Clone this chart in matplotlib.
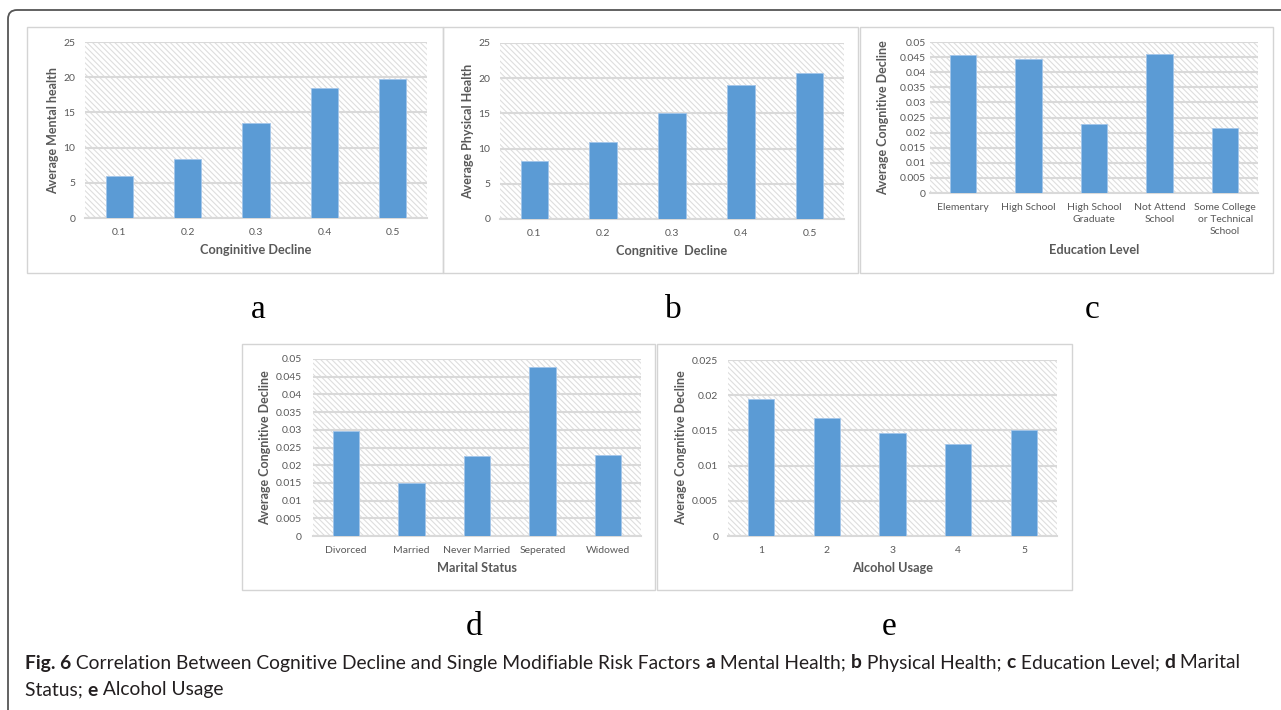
import numpy as np
import matplotlib
matplotlib.use('Agg')
import matplotlib.pyplot as plt
from matplotlib.patches import Rectangle, FancyBboxPatch
from matplotlib.transforms import IdentityTransform
from matplotlib.font_manager import FontProperties
from matplotlib.ticker import FuncFormatter, MultipleLocator

plt.rcParams['font.family'] = ['Lato', 'DejaVu Sans']
plt.rcParams['hatch.linewidth'] = 0.8

W, H = 1281, 710

# data
cog_levels = ['0.1', '0.2', '0.3', '0.4', '0.5']
mental = [6.0, 8.4, 13.5, 18.5, 19.7]
physical = [8.2, 10.9, 15.1, 19.0, 20.7]

edu_levels = ['Elementary', 'High School', 'High School\nGraduate',
              'Not Attend\nSchool', 'Some College\nor Technical\nSchool']
edu_decline = [0.0456, 0.0445, 0.0227, 0.0460, 0.0216]

marital = ['Divorced', 'Married', 'Never Married', 'Seperated', 'Widowed']
marital_decline = [0.0297, 0.0150, 0.0225, 0.0476, 0.0228]

alcohol = ['1', '2', '3', '4', '5']
alcohol_decline = [0.0195, 0.0168, 0.0146, 0.0130, 0.0150]

BAR = '#5b9bd5'
GRID = '#d9d9d9'
TXT = '#595959'

fig = plt.figure(figsize=(W / 100, H / 100), dpi=100)


def fx(x):
    return x / W


def fy(y):
    return 1 - y / H


def box(x0, y0, x1, y1):
    fig.patches.append(Rectangle((fx(x0), fy(y1)), fx(x1 - x0), (y1 - y0) / H,
                                 transform=fig.transFigure, fill=False,
                                 edgecolor='#d4d4d4', lw=1.0))


def panel(rect, cats, vals, ymax, step, xlabel, ylabel, ylab_x, xlab_y, ypad):
    x0, y0, x1, y1 = rect
    ax = fig.add_axes([fx(x0), fy(y1), fx(x1 - x0), (y1 - y0) / H])
    ax.set_facecolor('white')
    ax.add_patch(Rectangle((0, 0), 1, 1, transform=ax.transAxes, facecolor='white',
                           edgecolor='#dedede', hatch='\\\\\\\\\\\\', lw=0, zorder=0))
    x = np.arange(len(cats))
    ax.bar(x, vals, width=0.4, color=BAR, edgecolor='#a3c6ea', lw=0.6, zorder=3)
    ax.set_xlim(-0.5, len(cats) - 0.5)
    ax.set_ylim(0, ymax)
    ax.yaxis.set_major_locator(MultipleLocator(step))
    ax.yaxis.set_major_formatter(FuncFormatter(lambda v, p: '%g' % round(v, 6)))
    ax.grid(axis='y', color=GRID, lw=1.5, zorder=1)
    ax.set_axisbelow(True)
    for s in ['top', 'right', 'left']:
        ax.spines[s].set_visible(False)
    ax.spines['bottom'].set_color(GRID)
    ax.spines['bottom'].set_linewidth(1.5)
    ax.set_xticks(x)
    ax.set_xticklabels(cats, linespacing=1.45)
    ax.tick_params(length=0, labelsize=7.5, labelcolor=TXT)
    ax.tick_params(axis='y', pad=ypad)
    ax.tick_params(axis='x', pad=7)
    ax.set_xlabel(xlabel, fontsize=9.2, fontweight='bold', color=TXT)
    ax.set_ylabel(ylabel, fontsize=9, fontweight='bold', color=TXT)
    ax.yaxis.set_label_coords((ylab_x - x0) / (x1 - x0), 0.5)
    ax.xaxis.set_label_coords(0.5, -(xlab_y - y1) / (y1 - y0))
    ax.xaxis.label.set_va('center')
    ax.yaxis.label.set_va('center')
    return ax


# outer frame with rounded corner
fig.patches.append(FancyBboxPatch((8, -40), W + 60, H - 10 + 40,
                                  boxstyle='round,pad=0,rounding_size=9',
                                  transform=IdentityTransform(), fill=False,
                                  edgecolor='#555555', lw=1.3))

box(27, 27, 443, 273)
box(443, 27, 858, 273)
box(860, 27, 1273, 273)
box(242, 344, 655, 590)
box(657, 344, 1072, 590)

panel((85, 42, 427, 218), cog_levels, mental, 25, 5,
      'Conginitive Decline', 'Average Mental health', 53, 250, 7)
panel((500, 43, 844, 219), cog_levels, physical, 25, 5,
      'Congnitive  Decline', 'Average Physical Health', 468, 251, 7)
panel((930, 42, 1258, 193), edu_levels, edu_decline, 0.05, 0.005,
      'Education Level', 'Average Congnitive Decline', 883, 250, 3)
panel((313, 359, 641, 536), marital, marital_decline, 0.05, 0.005,
      'Marital Status', 'Average Congnitive Decline', 265, 568, 8)
panel((728, 360, 1057, 536), alcohol, alcohol_decline, 0.025, 0.005,
      'Alcohol Usage', 'Average Congnitive Decline', 681, 568, 7)

for letter, (lx, ly) in zip('abcde', [(258, 310), (673, 310), (1092, 310),
                                      (474, 627), (889, 627)]):
    fig.text(fx(lx), fy(ly), letter, fontsize=24, family='Liberation Serif',
             ha='center', va='center', color='black')

# caption, mixed bold / regular runs placed one after another
cap_family = ['Lato', 'DejaVu Sans']
lines = [
    [('Fig. 6', 'bold'), (' Correlation Between Cognitive Decline and Single Modifiable Risk Factors ', 'normal'),
     ('a', 'bold'), (' Mental Health; ', 'normal'), ('b', 'bold'), (' Physical Health; ', 'normal'),
     ('c', 'bold'), (' Education Level; ', 'normal'), ('d', 'bold'), (' Marital', 'normal')],
    [('Status; ', 'normal'), ('e', 'bold'), (' Alcohol Usage', 'normal')],
]
r = fig.canvas.get_renderer()


def run_width(s, wgt, size):
    fp = FontProperties(family=cap_family, weight=wgt, size=size)
    w1 = r.get_text_width_height_descent('x' + s + 'x', fp, ismath=False)[0]
    w0 = r.get_text_width_height_descent('xx', fp, ismath=False)[0]
    return w1 - w0


base = 13
line1_w = sum(run_width(s, w, base) for s, w in lines[0])
cap_size = base * 1213 / line1_w

for runs, cy in zip(lines, [663, 690]):
    xpos = 25
    for s, wgt in runs:
        fig.text(fx(xpos), fy(cy), s, fontweight=wgt, fontsize=cap_size,
                 family=cap_family, va='center', ha='left', color='#231f20')
        xpos += run_width(s, wgt, cap_size)

fig.savefig('out.png', dpi=100)
